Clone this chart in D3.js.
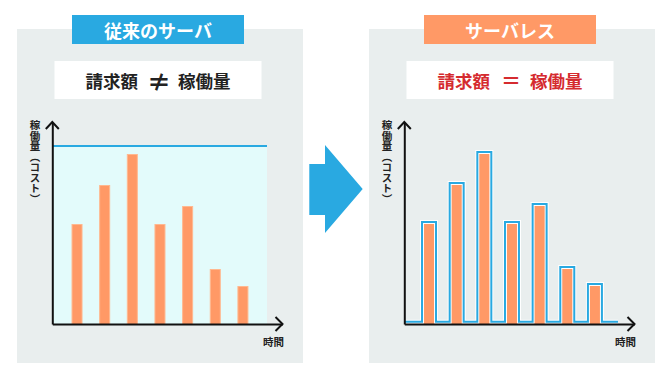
<!DOCTYPE html>
<html>
<head>
<meta charset="utf-8">
<script src="https://cdn.jsdelivr.net/npm/d3@7"></script>
<style>
  body { margin: 0; background: #fff; }
  text { font-family: "Noto Sans CJK JP", "Noto Sans", sans-serif; font-weight: 700; }
</style>
</head>
<body>
<div id="paper"></div>
<script>
// data

const slots = [1, 2, 3, 4, 5, 6, 7]
const usage = [100, 139, 170, 100, 118, 55, 38]   // 稼働量 per time slot
const capacity = 178                               // fixed server size (left)
const titles = ['従来のサーバ', 'サーバレス']
const formulas = [['請求額', '≠', '稼働量'], ['請求額', '＝', '稼働量']]
const yLabel = '稼働量（コスト）'
const xLabel = '時間'

// colours

const blue = '#29a9e1'
const orange = '#ff9966'
const gray = '#e9eeee'

// svg

const svg = d3.select('#paper')
    .append('svg')
    .attr('width', 672)
    .attr('height', 378)

// scales (shared by both panels, panel-local x)

const axisX = 35.3
const baseY = 324
const x = d3.scaleBand().domain(slots).range([46.2, 46.2 + 7 * 27.65])
const y = d3.scaleLinear().domain([0, 200]).range([baseY, 124])
const yAxisScale = d3.scaleLinear().domain([0, 1]).range([baseY, 122])
const xAxisScale = d3.scaleLinear().domain([0, 1]).range([axisX, 265.5])
const cx = d => x(d) + x.bandwidth() / 2

// panel frame

function panel(px, i){
    const g = svg.append('g').attr('transform', `translate(${px},0)`)

    g.append('rect')
        .attr('x', 0).attr('y', 29).attr('width', 286).attr('height', 334)
        .attr('fill', gray)

    g.append('rect')
        .attr('x', 55).attr('y', 15).attr('width', 172).attr('height', 29)
        .attr('fill', i == 0 ? blue : orange)

    g.append('text')
        .attr('x', 141).attr('y', 30)
        .attr('text-anchor', 'middle')
        .attr('dominant-baseline', 'central')
        .attr('font-size', '18px')
        .attr('fill', '#fff')
        .text(titles[i])

    g.append('rect')
        .attr('x', 37.5).attr('y', 61).attr('width', 207).attr('height', 38)
        .attr('fill', '#fff')

    const col = i == 0 ? '#222' : '#d52b2f'
    const f = formulas[i]
    g.append('text').attr('x', 121).attr('y', 80).attr('text-anchor', 'end')
        .attr('dominant-baseline', 'central').attr('font-size', '17.5px').attr('fill', col).text(f[0])
    g.append('text').attr('x', 142).attr('y', 80).attr('text-anchor', 'middle')
        .attr('dominant-baseline', 'central').attr('font-size', i == 0 ? '24px' : '20px')
        .attr('font-weight', 400).attr('fill', col).text(f[1])
    g.append('text').attr('x', 161).attr('y', 80).attr('text-anchor', 'start')
        .attr('dominant-baseline', 'central').attr('font-size', '17.5px').attr('fill', col).text(f[2])

    return g
}

function axes(g){
    g.append('g')
        .attr('transform', `translate(${axisX},0)`)
        .call(d3.axisLeft(yAxisScale).tickValues([]).tickSizeOuter(0))
        .select('.domain').attr('stroke', '#111').attr('stroke-width', 2)

    g.append('g')
        .attr('transform', `translate(0,${baseY})`)
        .call(d3.axisBottom(xAxisScale).tickValues([]).tickSizeOuter(0))
        .select('.domain').attr('stroke', '#111').attr('stroke-width', 2)

    // arrow heads
    const topY = yAxisScale.range()[1]
    const tipX = xAxisScale.range()[1]
    g.append('path')
        .attr('d', `M${axisX - 6.5},${topY + 7}L${axisX},${topY}L${axisX + 6.5},${topY + 7}`)
        .attr('fill', 'none').attr('stroke', '#111').attr('stroke-width', 2)
    g.append('path')
        .attr('d', `M${tipX - 7},${baseY - 7}L${tipX},${baseY}L${tipX - 7},${baseY + 7}`)
        .attr('fill', 'none').attr('stroke', '#111').attr('stroke-width', 2)

    g.append('text')
        .attr('x', 18).attr('y', 120)
        .attr('font-size', '10.5px')
        .attr('fill', '#222')
        .style('writing-mode', 'vertical-rl')
        .text(yLabel)

    g.append('text')
        .attr('x', 267).attr('y', 341)
        .attr('text-anchor', 'end')
        .attr('dominant-baseline', 'central')
        .attr('font-size', '10.5px')
        .attr('fill', '#222')
        .text(xLabel)
}

// left: fixed server

const left = panel(17, 0)

left.append('rect')
    .attr('x', axisX).attr('y', y(capacity))
    .attr('width', 250 - axisX).attr('height', baseY - y(capacity))
    .attr('fill', '#e3fbfb')

left.append('line')
    .attr('x1', axisX).attr('x2', 250)
    .attr('y1', y(capacity)).attr('y2', y(capacity))
    .attr('stroke', blue).attr('stroke-width', 2)

left.selectAll('.bar')
    .data(usage)
    .join('rect')
    .attr('class', 'bar')
    .attr('x', (d, i) => cx(slots[i]) - 5.5 + 0.5)
    .attr('y', d => y(d) + 0.5)
    .attr('width', 10)
    .attr('height', d => baseY - y(d))
    .attr('fill', orange)
    .attr('stroke', '#ffb88f')
    .attr('stroke-width', 1)

axes(left)

// right: serverless, cost follows usage

const off = 2
const stepBase = baseY - 2.3
const right = panel(369, 1)

let pts = [[axisX, stepBase]]
usage.forEach((d, i) => {
    const x0 = cx(slots[i]) - 5 - off
    const x1 = cx(slots[i]) + 5 + off
    pts.push([x0, stepBase], [x0, y(d) - off], [x1, y(d) - off], [x1, stepBase])
})
pts.push([249, stepBase])

const line = d3.line()
right.append('path').attr('d', line(pts))
    .attr('fill', 'none').attr('stroke', '#fff').attr('stroke-width', 4)
right.append('path').attr('d', line(pts))
    .attr('fill', 'none').attr('stroke', blue).attr('stroke-width', 2)

right.selectAll('.bar')
    .data(usage)
    .join('rect')
    .attr('class', 'bar')
    .attr('x', (d, i) => cx(slots[i]) - 5)
    .attr('y', d => y(d))
    .attr('width', 10)
    .attr('height', d => baseY - y(d))
    .attr('fill', orange)

axes(right)

// arrow between panels

svg.append('path')
    .attr('d', 'M309.3,164L325,164L325,145L362.7,189L325,233L325,215L309.3,215Z')
    .attr('fill', blue)
</script>
</body>
</html>
